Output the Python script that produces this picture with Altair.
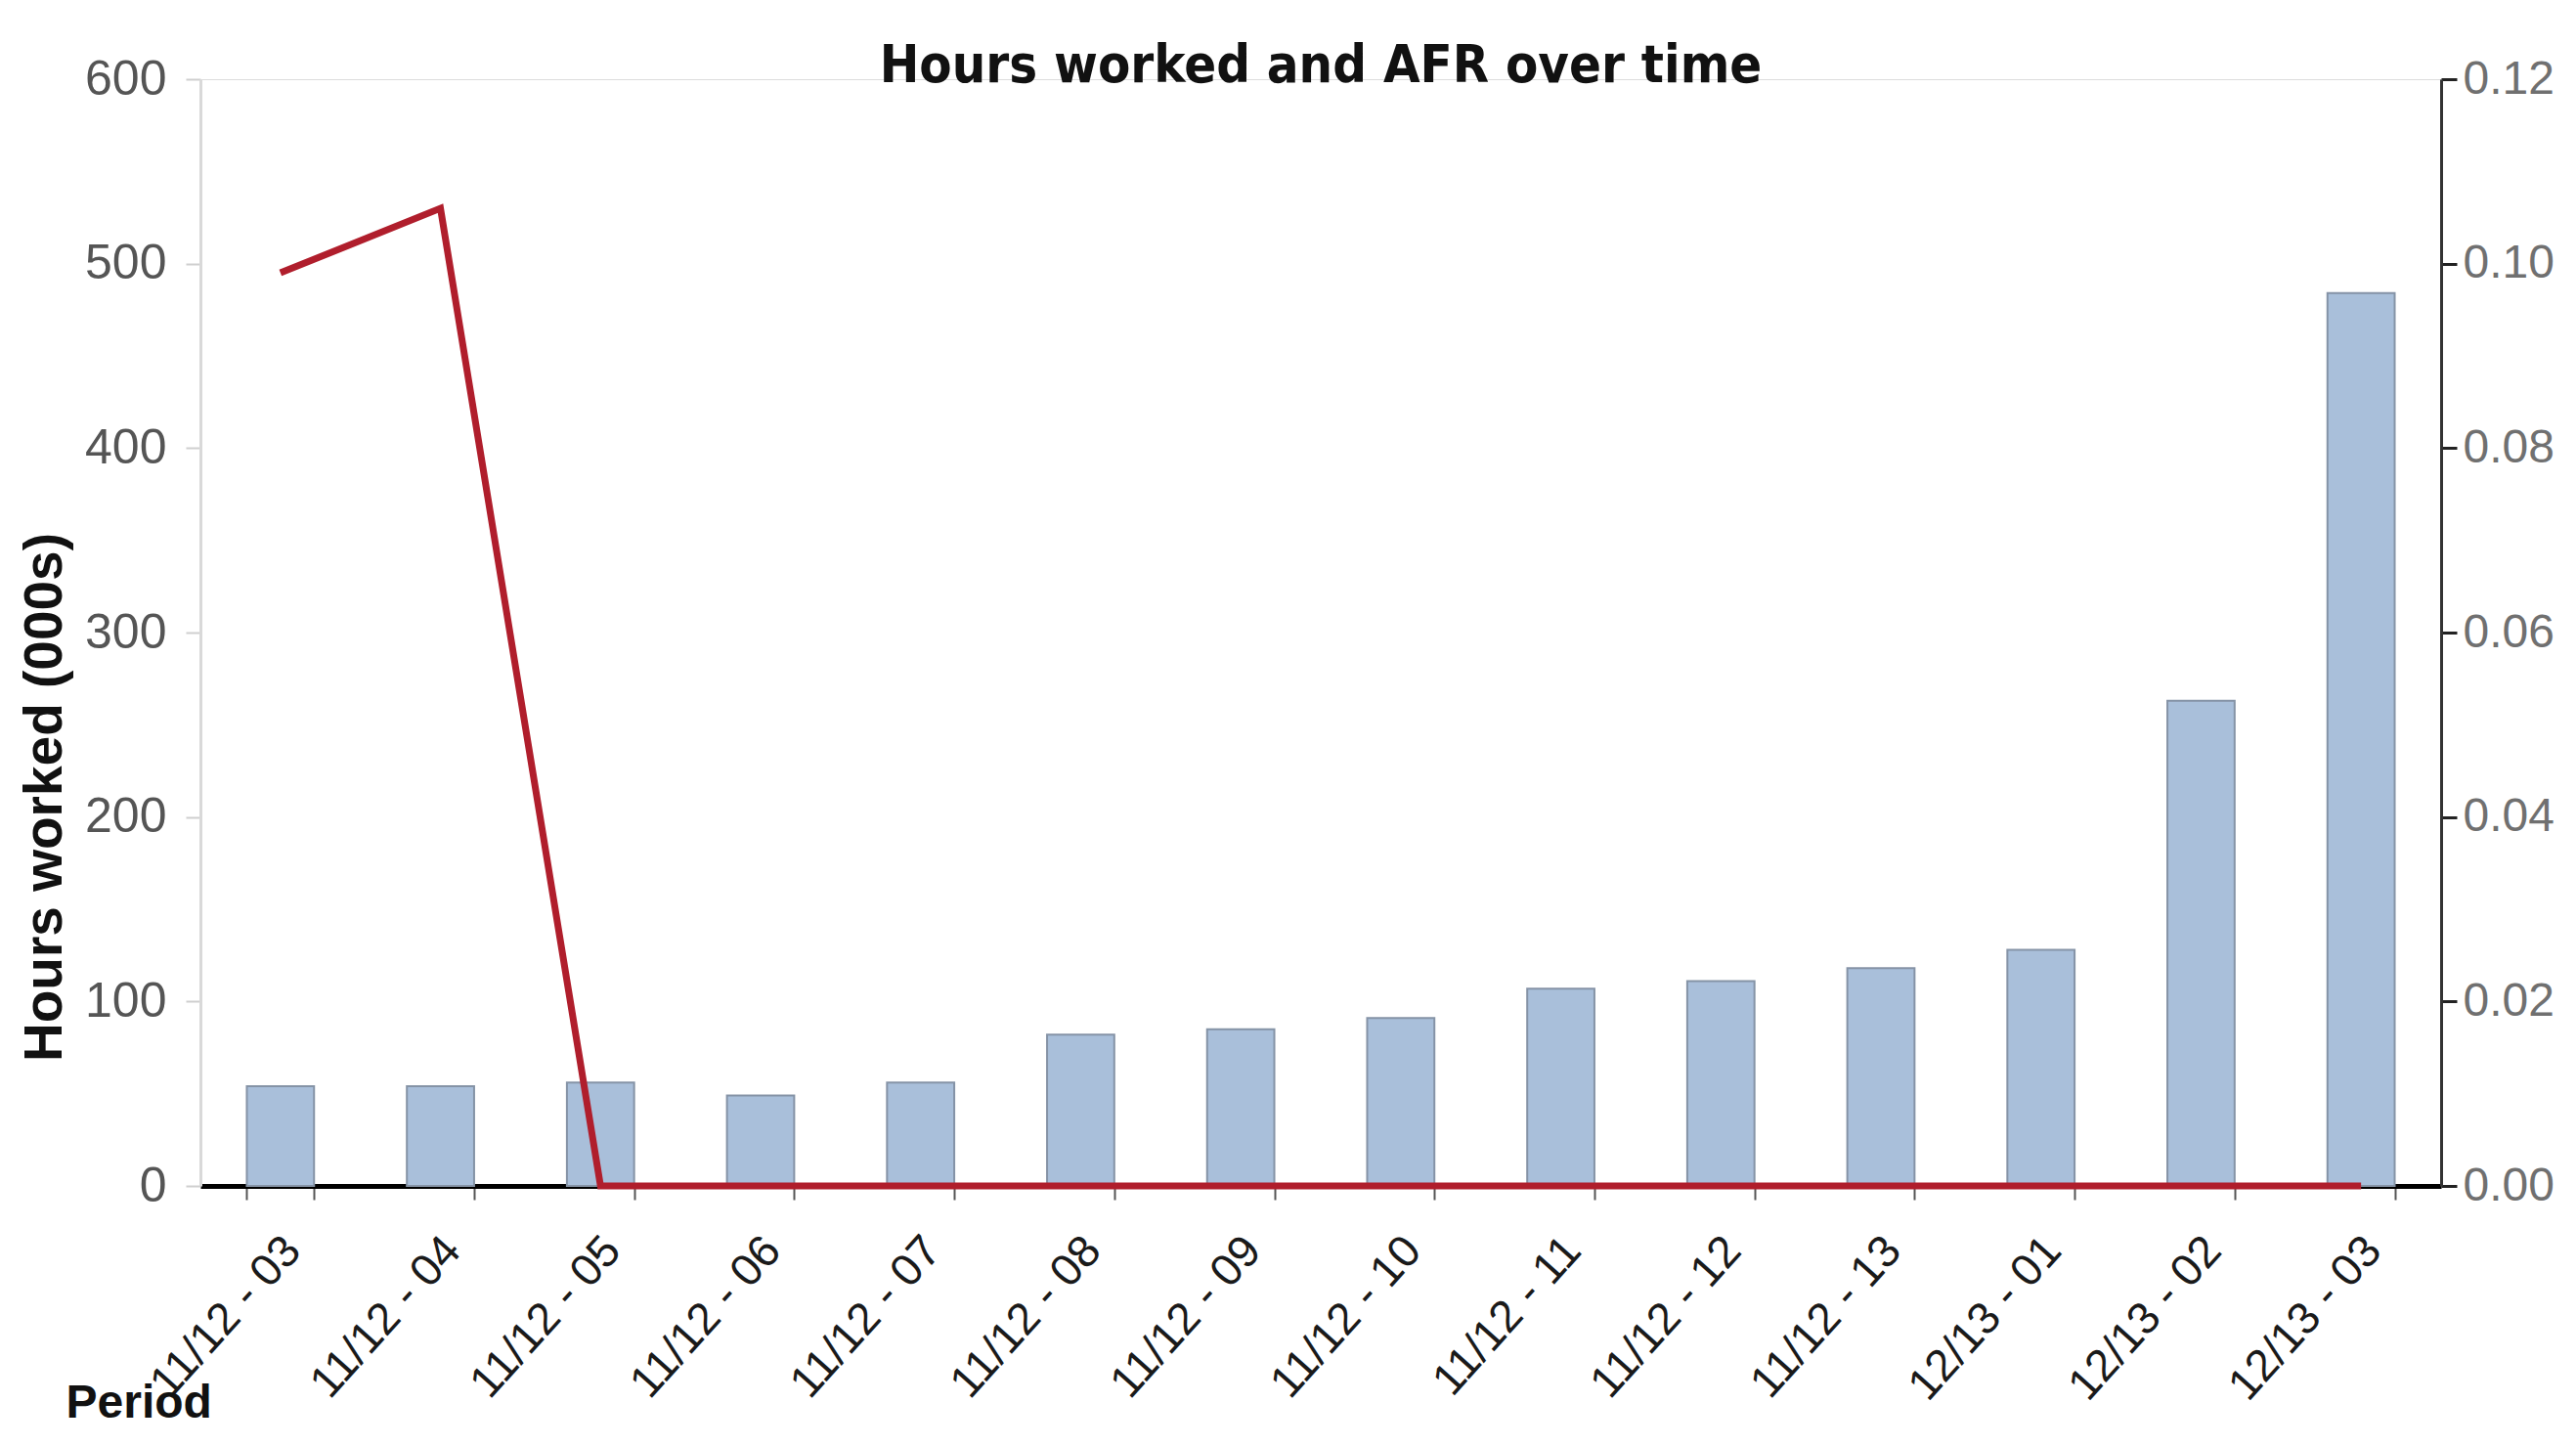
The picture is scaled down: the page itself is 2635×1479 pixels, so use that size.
import altair as alt
import pandas as pd

periods = ["11/12 - 03", "11/12 - 04", "11/12 - 05", "11/12 - 06", "11/12 - 07",
           "11/12 - 08", "11/12 - 09", "11/12 - 10", "11/12 - 11", "11/12 - 12",
           "11/12 - 13", "12/13 - 01", "12/13 - 02", "12/13 - 03"]
hours = [54, 54, 56, 49, 56, 82, 85, 91, 107, 111, 118, 128, 263, 484]
afr = [0.099, 0.106, 0, 0, 0, 0, 0, 0, 0, 0, 0, 0, 0, 0]

df = pd.DataFrame({"period": periods, "hours": hours, "afr": afr})

FONT = "Liberation Sans Narrow, Arial Narrow, DejaVu Sans Condensed, Liberation Sans, Arial, sans-serif"
FONT_REG = "Liberation Sans, Arial, sans-serif"

x_enc = alt.X(
    "period:N", sort=periods,
    scale=alt.Scale(paddingInner=0.58, paddingOuter=0.29),
    axis=alt.Axis(
        title="Period", titleFont=FONT_REG, titleFontSize=48, titleFontWeight="bold",
        titleColor="#111", titleAnchor="start", titleAlign="left", titleBaseline="alphabetic",
        titleX=-138, titleY=236,
        labelAngle=-48, labelAlign="right", labelBaseline="middle",
        labelFont=FONT_REG, labelFontSize=46, labelColor="#1a1a1a",
        labelPadding=44, labelOffset=12, labelLimit=0, labelOverlap=False,
        tickBand="extent", tickSize=14, tickWidth=2, tickColor="#555",
        domainColor="#000", domainWidth=5,
    ),
)

bars = alt.Chart(df).mark_bar(
    fill="#a9bfda", stroke="#8593a6", strokeWidth=2
).encode(
    x=x_enc,
    y=alt.Y("hours:Q",
            scale=alt.Scale(domain=[0, 600], nice=False),
            axis=alt.Axis(
                title="Hours worked (000s)", titleFont=FONT_REG, titleFontSize=55,
                titleFontWeight="bold", titleColor="#111", titlePadding=12,
                titleY=734,
                values=[0, 100, 200, 300, 400, 500, 600],
                labelFont=FONT_REG, labelFontSize=50, labelColor="#555",
                labelPadding=20, tickSize=15, tickColor="#cfcfcf", tickWidth=2,
                domainColor="#d9d9d9", domainWidth=3, grid=False,
            )),
)

line = alt.Chart(df).mark_line(color="#b01e2c", strokeWidth=7).encode(
    x=alt.X("period:N", sort=periods),
    y=alt.Y("afr:Q",
            scale=alt.Scale(domain=[0, 0.12], nice=False),
            axis=alt.Axis(
                title=None, orient="right", format=".2f",
                values=[0, 0.02, 0.04, 0.06, 0.08, 0.1, 0.12],
                labelFont=FONT_REG, labelFontSize=48, labelColor="#707070",
                labelPadding=6, tickSize=16, tickColor="#222", tickWidth=3,
                domainColor="#333", domainWidth=3, grid=False,
            )),
)

chart = alt.layer(bars, line).resolve_scale(y="independent").properties(
    width=2292, height=1132,
    title=alt.TitleParams("Hours worked and AFR over time", font=FONT, fontSize=54,
                          fontWeight="bold", color="#111", anchor="middle",
                          baseline="alphabetic", offset=0, dy=82),
    autosize=alt.AutoSizeParams(type="none"),
    padding={"left": 197, "top": 73, "right": 130, "bottom": 240},
).configure_view(stroke="#6a6a6a", strokeWidth=3).configure(background="white")

chart.save("out.html", embed_options={"renderer": "svg", "actions": False})
